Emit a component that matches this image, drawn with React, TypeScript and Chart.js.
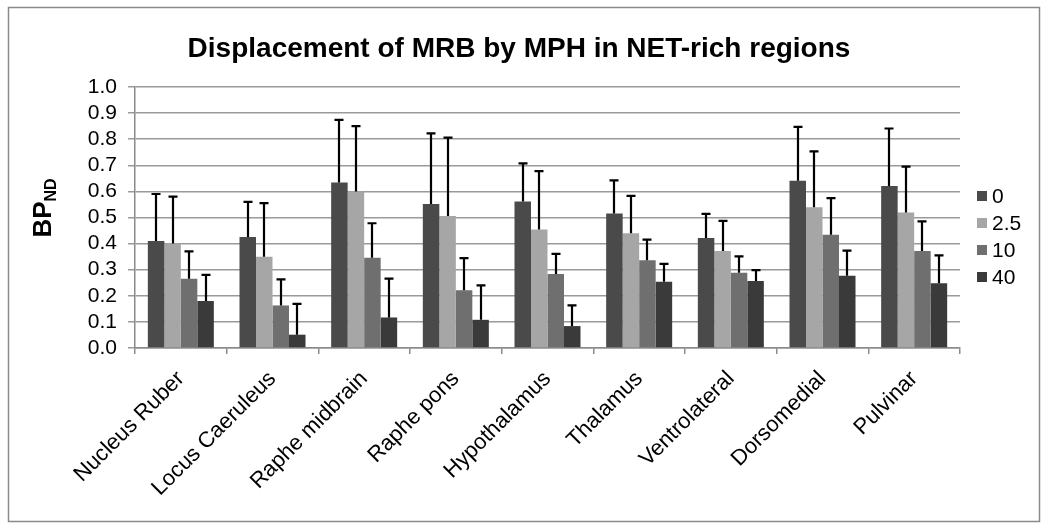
import React, { useEffect, useRef } from "react";
import { Chart, registerables } from "chart.js";

Chart.register(...registerables);

const TITLE = "Displacement of MRB by MPH in NET-rich regions";
const REGIONS = [
  "Nucleus Ruber",
  "Locus Caeruleus",
  "Raphe midbrain",
  "Raphe pons",
  "Hypothalamus",
  "Thalamus",
  "Ventrolateral",
  "Dorsomedial",
  "Pulvinar",
];
const DOSES = ["0", "2.5", "10", "40"];

const MEAN_0 = [0.41, 0.425, 0.634, 0.552, 0.561, 0.515, 0.421, 0.641, 0.621];
const MEAN_2_5 = [0.4, 0.35, 0.6, 0.506, 0.454, 0.44, 0.372, 0.539, 0.519];
const MEAN_10 = [0.265, 0.163, 0.346, 0.221, 0.284, 0.336, 0.288, 0.434, 0.372];
const MEAN_40 = [0.18, 0.051, 0.117, 0.108, 0.084, 0.254, 0.257, 0.277, 0.248];

const SD_0 = [0.18, 0.135, 0.24, 0.27, 0.146, 0.127, 0.093, 0.206, 0.22];
const SD_2_5 = [0.18, 0.205, 0.25, 0.3, 0.224, 0.143, 0.115, 0.214, 0.176];
const SD_10 = [0.105, 0.1, 0.132, 0.123, 0.077, 0.079, 0.063, 0.14, 0.113];
const SD_40 = [0.1, 0.118, 0.149, 0.132, 0.079, 0.068, 0.041, 0.096, 0.107];

const MEANS = [MEAN_0, MEAN_2_5, MEAN_10, MEAN_40];
const SDS = [SD_0, SD_2_5, SD_10, SD_40];
const COLORS = ["#4a4a4a", "#a6a6a6", "#6f6f6f", "#3a3a3a"];

const FONT = "'Liberation Sans', Arial, sans-serif";

const decorPlugin = {
  id: "decor",
  afterDatasetsDraw(chart: any) {
    const ctx = chart.ctx;
    const yScale = chart.scales.y;
    ctx.save();
    ctx.strokeStyle = "#000";
    ctx.lineWidth = 2.2;
    chart.data.datasets.forEach((ds: any, di: number) => {
      const meta = chart.getDatasetMeta(di);
      meta.data.forEach((bar: any, i: number) => {
        const top = yScale.getPixelForValue(ds.data[i] + SDS[di][i]);
        const x = Math.round(bar.x);
        ctx.beginPath();
        ctx.moveTo(x, bar.y);
        ctx.lineTo(x, top);
        ctx.moveTo(x - 4.5, top);
        ctx.lineTo(x + 4.5, top);
        ctx.stroke();
      });
    });
    ctx.restore();
  },
  afterDraw(chart: any) {
    const ctx = chart.ctx;
    ctx.save();
    // outer frame
    ctx.strokeStyle = "#8a8a8a";
    ctx.lineWidth = 1.5;
    ctx.strokeRect(8.5, 7.5, 1031, 514);
    // title
    ctx.fillStyle = "#000";
    ctx.font = `bold 28px ${FONT}`;
    ctx.textAlign = "center";
    ctx.textBaseline = "alphabetic";
    ctx.fillText(TITLE, 519, 57);
    // y axis title BP_ND
    ctx.translate(51, 208);
    ctx.rotate(-Math.PI / 2);
    ctx.textAlign = "left";
    ctx.font = `bold 26px ${FONT}`;
    const bpW = ctx.measureText("BP").width;
    ctx.font = `bold 16px ${FONT}`;
    const ndW = ctx.measureText("ND").width;
    const start = -(bpW + ndW) / 2;
    ctx.font = `bold 26px ${FONT}`;
    ctx.fillText("BP", start, 0);
    ctx.font = `bold 16px ${FONT}`;
    ctx.fillText("ND", start + bpW, 5);
    ctx.restore();
    // legend
    ctx.save();
    const rows = [196, 223, 250, 277];
    ctx.font = `21px ${FONT}`;
    ctx.textBaseline = "middle";
    ctx.textAlign = "left";
    DOSES.forEach((d, i) => {
      ctx.fillStyle = COLORS[i];
      ctx.fillRect(977, rows[i] - 5, 10, 10);
      ctx.fillStyle = "#000";
      ctx.fillText(d, 992, rows[i] + 1);
    });
    ctx.restore();
  },
};

export default function App() {
  const ref = useRef<HTMLCanvasElement | null>(null);
  useEffect(() => {
    document.body.style.margin = "0";
    const canvas = ref.current!;
    const chart = new Chart(canvas, {
      type: "bar",
      data: {
        labels: REGIONS,
        datasets: DOSES.map((d, i) => ({
          label: d,
          data: MEANS[i],
          backgroundColor: COLORS[i],
          borderWidth: 0,
          categoryPercentage: 0.72,
          barPercentage: 1.0,
        })),
      },
      options: {
        animation: false,
        responsive: false,
        maintainAspectRatio: false,
        devicePixelRatio: 1,
        layout: { padding: { left: 0, top: 87, right: 90, bottom: 0 } },
        plugins: {
          legend: { display: false },
          title: { display: false },
          tooltip: { enabled: false },
        },
        scales: {
          x: {
            afterFit: (s: any) => {
              s.height = 180;
            },
            grid: {
              offset: true,
              drawOnChartArea: false,
              drawTicks: true,
              tickLength: 6,
              color: "#8a8a8a",
              lineWidth: 1.5,
            },
            border: { display: true, color: "#8a8a8a", width: 1.5 },
            ticks: {
              color: "#000",
              font: { family: FONT, size: 22 },
              minRotation: 45,
              maxRotation: 45,
              padding: 12,
              autoSkip: false,
            },
          },
          y: {
            min: 0,
            max: 1,
            afterFit: (s: any) => {
              s.width = 135;
            },
            grid: {
              color: "#9a9a9a",
              lineWidth: 1.5,
              tickLength: 7,
              drawTicks: true,
            },
            border: { display: true, color: "#8a8a8a", width: 1.5 },
            ticks: {
              stepSize: 0.1,
              autoSkip: false,
              color: "#000",
              font: { family: FONT, size: 21 },
              padding: 11,
              callback: (v: any) => Number(v).toFixed(1),
            },
          },
        },
      },
      plugins: [decorPlugin],
    });
    return () => chart.destroy();
  }, []);
  return (
    <div style={{ width: 1050, height: 528 }}>
      <canvas ref={ref} width={1050} height={528} style={{ display: "block", width: 1050, height: 528 }} />
    </div>
  );
}
